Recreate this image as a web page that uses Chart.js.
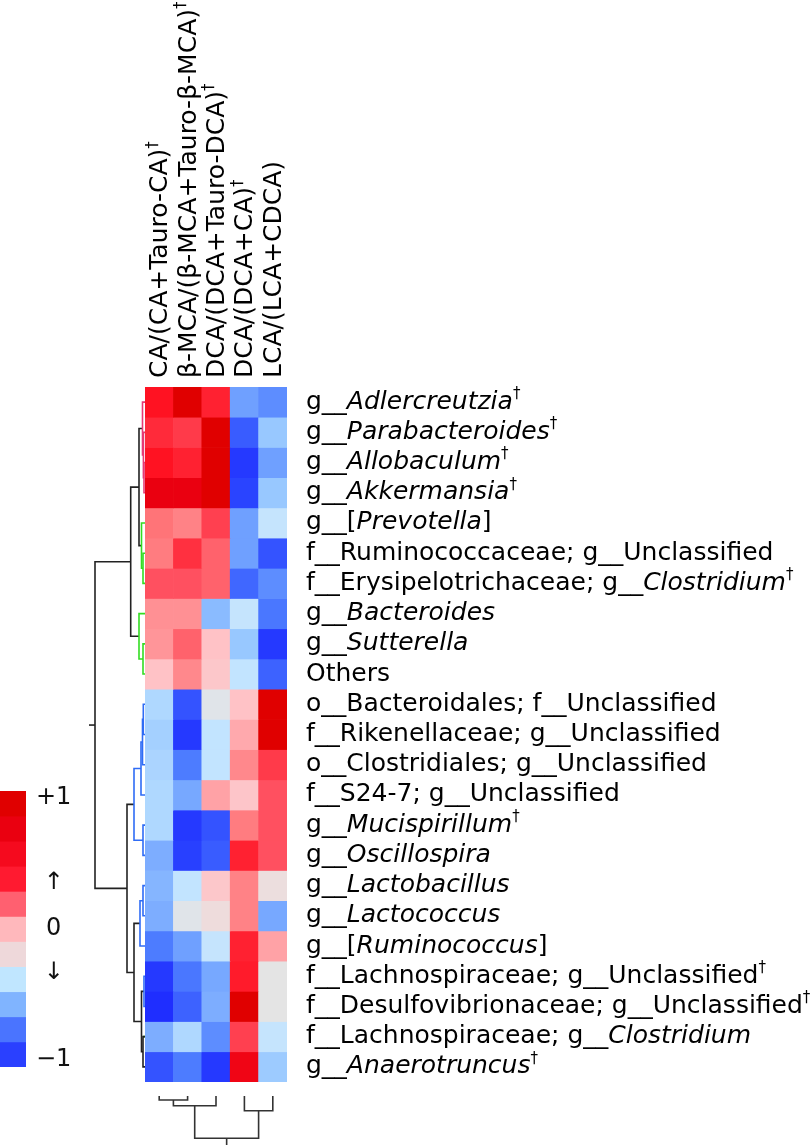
<!doctype html>
<html>
<head>
<meta charset="utf-8">
<title>Bile acid ratios vs. gut bacteria</title>
<script src="https://cdn.jsdelivr.net/npm/chart.js"></script>
<style>
  body { margin: 0; background: #fff; }
  .wrap { position: relative; width: 812px; height: 1145px; overflow: hidden; }
  canvas { position: absolute; }
</style>
</head>
<body>
<div class="wrap">
  <canvas id="heat" width="812" height="1145" style="left:0;top:0"></canvas>
  <canvas id="rowTree" width="65" height="695" style="left:80px;top:387px"></canvas>
  <canvas id="colTree" width="142" height="49" style="left:145px;top:1096px"></canvas>
  <canvas id="legend" width="76" height="332" style="left:0;top:760px"></canvas>
</div>

<script>
// Column labels (bile acid ratios), * = italic, † = superscript
var colLabels = ['CA/(CA+Tauro-CA)†', 'β-MCA/(β-MCA+Tauro-β-MCA)†', 'DCA/(DCA+Tauro-DCA)†', 'DCA/(DCA+CA)†', 'LCA/(LCA+CDCA)'];

// Row labels (taxa), top to bottom
var rowLabels = [
    'g__*Adlercreutzia*†', 'g__*Parabacteroides*†', 'g__*Allobaculum*†', 'g__*Akkermansia*†',
    'g__[*Prevotella*]', 'f__Ruminococcaceae; g__Unclassified', 'f__Erysipelotrichaceae; g__*Clostridium*†',
    'g__*Bacteroides*', 'g__*Sutterella*', 'Others',
    'o__Bacteroidales; f__Unclassified', 'f__Rikenellaceae; g__Unclassified', 'o__Clostridiales; g__Unclassified',
    'f__S24-7; g__Unclassified', 'g__*Mucispirillum*†', 'g__*Oscillospira*', 'g__*Lactobacillus*',
    'g__*Lactococcus*', 'g__[*Ruminococcus*]', 'f__Lachnospiraceae; g__Unclassified†',
    'f__Desulfovibrionaceae; g__Unclassified†', 'f__Lachnospiraceae; g__*Clostridium*', 'g__*Anaerotruncus*†'
];

// Correlation values, one array per column, rows top to bottom
var caRatio      = [0.85, 0.77, 0.85, 0.95, 0.55, 0.52, 0.65, 0.45, 0.43, 0.25, -0.3, -0.35, -0.32, -0.3, -0.3, -0.5, -0.47, -0.5, -0.7, -0.95, -1.0, -0.5, -0.85];
var bmcaRatio    = [1.0, 0.72, 0.8, 0.95, 0.5, 0.75, 0.65, 0.45, 0.6, 0.48, -0.85, -0.95, -0.7, -0.52, -0.95, -0.92, -0.22, -0.04, -0.55, -0.72, -0.8, -0.3, -0.7];
var dcaTauRatio  = [0.8, 1.0, 1.0, 1.0, 0.7, 0.6, 0.6, -0.45, 0.25, 0.22, -0.04, -0.22, -0.22, 0.38, -0.85, -0.82, 0.22, 0.08, -0.2, -0.52, -0.5, -0.63, -0.95];
var dcaCaRatio   = [-0.55, -0.82, -0.95, -0.9, -0.55, -0.55, -0.78, -0.2, -0.4, -0.22, 0.25, 0.35, 0.48, 0.23, 0.52, 0.8, 0.5, 0.5, 0.8, 0.82, 1.0, 0.7, 0.92];
var lcaRatio     = [-0.63, -0.4, -0.55, -0.4, -0.2, -0.85, -0.63, -0.72, -0.95, -0.8, 1.0, 1.0, 0.72, 0.65, 0.65, 0.65, 0.06, -0.52, 0.38, 0.0, 0.0, -0.2, -0.38];
var columns = [caRatio, bmcaRatio, dcaTauRatio, dcaCaRatio, lcaRatio];

// Row clustering (hclust style: negative = leaf, positive = earlier merge)
var rowMerge = [[-3, -4], [-2, 1], [-1, 2], [-6, -7], [-5, 4], [3, 5], [-9, -10], [-8, 7], [6, 8],
    [-11, -12], [10, -13], [11, -14], [-15, -16], [12, 13], [-17, -18], [15, -19], [-20, -21], [-22, -23],
    [17, 18], [16, 19], [14, 20], [9, 21]];
var rowHeight = [1.0, 1.6, 2.5, 2.0, 3.5, 6.0, 2.0, 6.0, 14.3, 1.7, 2.5, 4.0, 2.0, 11.0, 2.0, 5.0, 1.0, 2.0, 3.5, 11.0, 18.0, 50.0];
var rowBranch = ['pink', 'pink', 'pink', 'green', 'green', 'black', 'green', 'green', 'black',
    'blue', 'blue', 'blue', 'blue', 'blue', 'blue', 'blue', 'blue', 'black', 'black', 'black', 'black', 'black'];

// Column clustering
var colMerge = [[-1, -2], [1, -3], [-4, -5], [2, 3]];
var colHeight = [4, 9.7, 14.7, 42.3];

// Legend
var legendBins = [1, 0.8, 0.6, 0.4, 0.2, 0, -0.2, -0.4, -0.6, -0.8, -1];
var legendTickValues = [1.05, 0.37, 0, -0.345, -1.045];
var legendTickLabels = ['+1', '↑', '0', '↓', '−1'];

// ---- styles ----
var FONT = "'DejaVu Sans', Verdana, sans-serif";
var LABEL_SIZE = 25, SUP_SIZE = 15, SUP_RISE = 8;
var branchColors = { pink: '#e63a74', green: '#33dd22', blue: '#2f6cf5', black: '#222222' };
var legendColors = ['#e00000', '#ea0010', '#f50a1e', '#ff1a30', '#ff6070', '#ffb8bc', '#eed8da', '#c0e6ff', '#80b4ff', '#4a74ff', '#2a40ff'];
var colorScale = [
    [-1.0, '#1f2eff'], [-0.9, '#2a44ff'], [-0.8, '#3d62ff'], [-0.7, '#4d7cff'], [-0.55, '#6fa0ff'],
    [-0.4, '#98c8ff'], [-0.22, '#c2e4ff'], [-0.05, '#dfe4ea'], [0, '#e4e4e4'], [0.08, '#eedcdc'],
    [0.25, '#ffc2c6'], [0.45, '#ff9094'], [0.55, '#ff7478'], [0.65, '#ff5060'], [0.75, '#ff3040'],
    [0.85, '#ff1222'], [0.95, '#ea0010'], [1.0, '#e00000']
];

Chart.defaults.font.family = FONT;
Chart.defaults.animation = false;
Chart.defaults.plugins.legend.display = false;
Chart.defaults.plugins.tooltip.enabled = false;

function hexRgb(h) {
    return [parseInt(h.slice(1, 3), 16), parseInt(h.slice(3, 5), 16), parseInt(h.slice(5, 7), 16)];
}

// Interpolate a cell colour from the colour scale
function cellColor(v) {
    if (v <= colorScale[0][0]) return colorScale[0][1];
    for (var i = 1; i < colorScale.length; i++) {
        if (v <= colorScale[i][0]) {
            var a = colorScale[i - 1], b = colorScale[i];
            var t = (v - a[0]) / (b[0] - a[0]);
            var c0 = hexRgb(a[1]), c1 = hexRgb(b[1]);
            return 'rgb(' + c0.map(function (c, k) { return Math.round(c + (c1[k] - c) * t); }).join(',') + ')';
        }
    }
    return colorScale[colorScale.length - 1][1];
}

// Split "g__*Name*†" into plain / italic / superscript pieces
function parseRich(s) {
    var segs = [], italic = false, buf = '';
    function push() { if (buf) { segs.push({ t: buf, italic: italic, sup: false }); buf = ''; } }
    for (var ch of s) {
        if (ch === '*') { push(); italic = !italic; }
        else if (ch === '†') { push(); segs.push({ t: '†', italic: false, sup: true }); }
        else buf += ch;
    }
    push();
    return segs;
}

function drawRich(ctx, s, x, y) {
    ctx.textBaseline = 'middle';
    ctx.textAlign = 'left';
    ctx.fillStyle = '#000';
    parseRich(s).forEach(function (seg) {
        ctx.font = (seg.italic ? 'italic ' : '') + (seg.sup ? SUP_SIZE : LABEL_SIZE) + 'px ' + FONT;
        ctx.fillText(seg.t, x, seg.sup ? y - SUP_RISE : y);
        x += ctx.measureText(seg.t).width;
    });
}

// Turn a merge table into drawable polylines (pos along leaves, h = height)
function treeLines(merge, height, branch, horizontal) {
    var nodes = [], lines = [];
    function info(id) { return id < 0 ? { pos: -id - 0.5, h: 0 } : nodes[id - 1]; }
    merge.forEach(function (m, k) {
        var a = info(m[0]), b = info(m[1]), H = height[k];
        nodes.push({ pos: (a.pos + b.pos) / 2, h: H });
        var pts = [[a.h, a.pos], [H, a.pos], [H, b.pos], [b.h, b.pos]];
        lines.push({
            color: branchColors[branch ? branch[k] : 'black'],
            data: pts.map(function (p) { return horizontal ? { x: p[0], y: p[1] } : { x: p[1], y: p[0] }; })
        });
    });
    return { lines: lines, root: nodes[nodes.length - 1] };
}

// ---- heatmap + labels ----
var labelPlugin = {
    id: 'labels',
    afterDraw: function (chart) {
        var ctx = chart.ctx, area = chart.chartArea, x = chart.scales.x, y = chart.scales.y;
        ctx.save();
        rowLabels.forEach(function (lab, i) {
            drawRich(ctx, lab, area.right + 19, y.getPixelForValue(i + 0.5));
        });
        colLabels.forEach(function (lab, j) {
            ctx.save();
            ctx.translate(x.getPixelForValue(j) + 1.5, area.top - 9);
            ctx.rotate(-Math.PI / 2);
            drawRich(ctx, lab, 0, 0);
            ctx.restore();
        });
        ctx.restore();
    }
};

new Chart(document.getElementById('heat'), {
    type: 'bar',
    data: {
        labels: colLabels,
        datasets: rowLabels.map(function (lab, r) {
            return {
                label: lab,
                data: columns.map(function () { return [r, r + 1]; }),
                backgroundColor: columns.map(function (col) { return cellColor(col[r]); }),
                borderWidth: 0
            };
        })
    },
    options: {
        responsive: false,
        layout: { padding: { left: 145, top: 387, right: 525, bottom: 63 } },
        datasets: { bar: { grouped: false, barPercentage: 1, categoryPercentage: 1 } },
        scales: {
            x: { display: false },
            y: { display: false, min: 0, max: rowLabels.length, reverse: true }
        }
    },
    plugins: [labelPlugin]
});

// ---- row dendrogram ----
var rowTree = treeLines(rowMerge, rowHeight, rowBranch, true);
var rowSets = rowTree.lines.map(function (l) {
    return { data: l.data, borderColor: l.color, showLine: true, borderWidth: 1.6, pointRadius: 0, clip: false };
});
rowSets.push({
    data: [{ x: rowTree.root.h, y: rowTree.root.pos }, { x: rowTree.root.h + 6, y: rowTree.root.pos }],
    borderColor: branchColors.black, showLine: true, borderWidth: 1.6, pointRadius: 0, clip: false
});
// tiny green leaf tick on row 22
rowSets.push({
    data: [{ x: 0, y: 21.5 }, { x: 2, y: 21.5 }],
    borderColor: branchColors.green, showLine: true, borderWidth: 1.6, pointRadius: 0, clip: false
});

new Chart(document.getElementById('rowTree'), {
    type: 'scatter',
    data: { datasets: rowSets },
    options: {
        responsive: false,
        scales: {
            x: { type: 'linear', display: false, min: 0, max: 65, reverse: true },
            y: { type: 'linear', display: false, min: 0, max: rowLabels.length, reverse: true }
        }
    }
});

// ---- column dendrogram ----
var colTree = treeLines(colMerge, colHeight, null, false);
var colSets = colTree.lines.map(function (l) {
    return { data: l.data, borderColor: '#333', showLine: true, borderWidth: 1.6, pointRadius: 0, clip: false };
});
colSets.push({
    data: [{ x: colTree.root.pos, y: colTree.root.h }, { x: colTree.root.pos, y: 49 }],
    borderColor: '#333', showLine: true, borderWidth: 1.6, pointRadius: 0, clip: false
});

new Chart(document.getElementById('colTree'), {
    type: 'scatter',
    data: { datasets: colSets },
    options: {
        responsive: false,
        scales: {
            x: { type: 'linear', display: false, min: 0, max: colLabels.length },
            y: { type: 'linear', display: false, min: 0, max: 49, reverse: true }
        }
    }
});

// ---- colour key ----
new Chart(document.getElementById('legend'), {
    type: 'bar',
    data: {
        labels: ['key'],
        datasets: legendBins.map(function (v, i) {
            return { data: [[v - 0.1, v + 0.1]], backgroundColor: legendColors[i], borderWidth: 0 };
        })
    },
    options: {
        responsive: false,
        layout: { padding: { top: 31, bottom: 25, left: 0, right: 0 } },
        datasets: { bar: { grouped: false, barPercentage: 1, categoryPercentage: 1 } },
        scales: {
            x: { display: false },
            y: {
                position: 'right', min: -1.1, max: 1.1,
                grid: { display: false, drawTicks: false },
                border: { display: false },
                afterBuildTicks: function (s) { s.ticks = legendTickValues.map(function (v) { return { value: v }; }); },
                afterFit: function (s) { s.width = 50; },
                ticks: {
                    autoSkip: false, padding: 10, crossAlign: 'center', color: '#111',
                    font: { size: 24 },
                    callback: function (v, i) { return legendTickLabels[i]; }
                }
            }
        }
    }
});
</script>
</body>
</html>
